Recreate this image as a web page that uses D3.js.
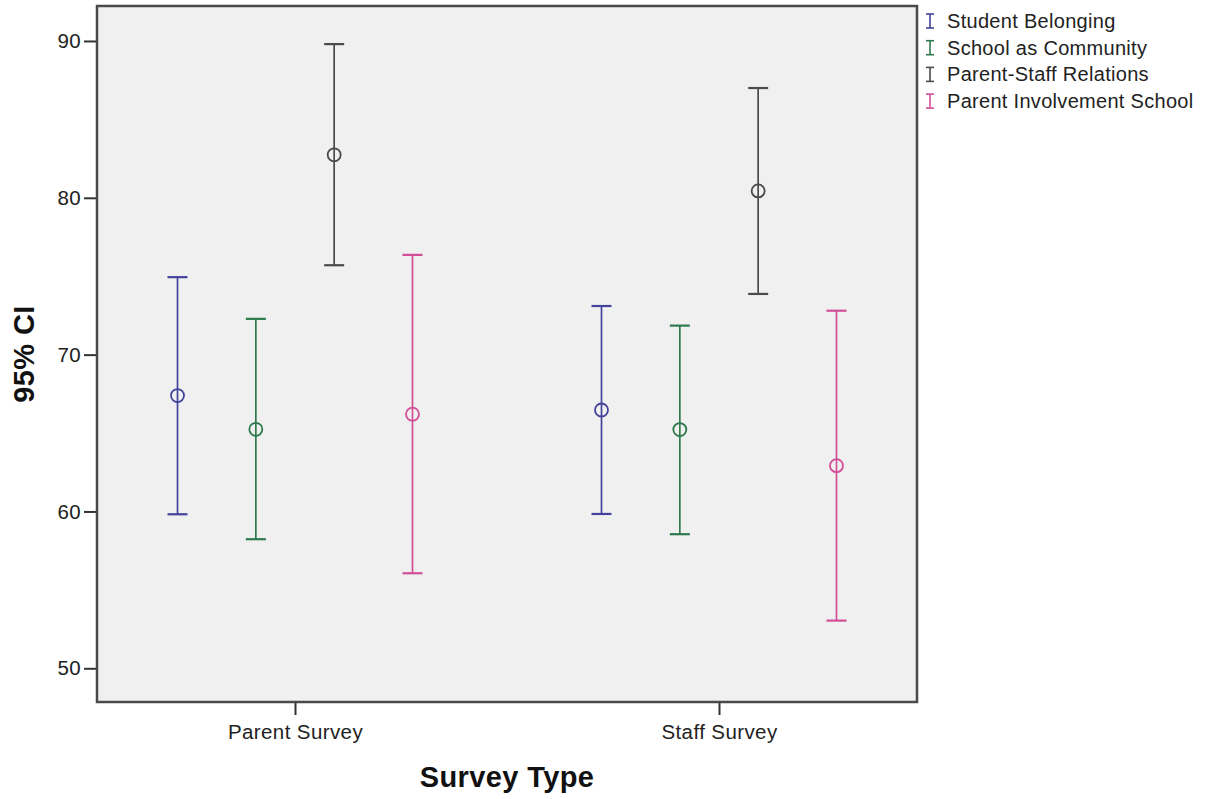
<!DOCTYPE html>
<html>
<head>
<meta charset="utf-8">
<script src="https://cdn.jsdelivr.net/npm/d3@7"></script>
<style>
  html, body { margin: 0; padding: 0; background: #fff; }
  svg { display: block; font-family: "Liberation Sans", Arial, sans-serif; }
</style>
</head>
<body>
<svg id="chart" width="1218" height="799"></svg>
<script>
// Survey groups along the x axis
const categories = ["Parent Survey", "Staff Survey"];
// Scale series plotted inside each group
const seriesNames = ["Student Belonging", "School as Community", "Parent-Staff Relations", "Parent Involvement School"];
const seriesColors = ["#43439c", "#2f7a4c", "#4a4a4a", "#d24f98"];
// Means and 95% confidence limits, one row per survey group
const meanValues = [
  [67.39, 65.24, 82.74, 66.20],
  [66.47, 65.22, 80.44, 62.92]
];
const lowerValues = [
  [59.82, 58.23, 75.70, 56.06],
  [59.84, 58.55, 73.87, 53.04]
];
const upperValues = [
  [74.94, 72.28, 89.80, 76.36],
  [73.10, 71.85, 87.00, 72.80]
];
const yTicks = [50, 60, 70, 80, 90];

const svg = d3.select("#chart");
const plot = { left: 97, right: 917, top: 6, bottom: 702 };

const x = d3.scalePoint().domain(categories)
  .range([plot.left, plot.right]).padding(0.467);
const xInner = d3.scalePoint().domain(seriesNames).range([-117.5, 117.5]);
const y = d3.scaleLinear().domain([47.85, 92.23]).range([plot.bottom, plot.top]);

// Plot background
svg.append("rect")
  .attr("x", plot.left).attr("y", plot.top)
  .attr("width", plot.right - plot.left).attr("height", plot.bottom - plot.top)
  .attr("fill", "#f0f0f0");

// Build rows of error-bar records
const rows = [];
categories.forEach((c, i) => {
  seriesNames.forEach((s, j) => {
    rows.push({ cat: c, series: s, color: seriesColors[j],
      mean: meanValues[i][j], lo: lowerValues[i][j], hi: upperValues[i][j] });
  });
});

const cap = 10;
const g = svg.append("g").attr("class", "bars");
const bar = g.selectAll("g.eb").data(rows).join("g").attr("class", "eb")
  .attr("transform", d => `translate(${x(d.cat) + xInner(d.series)},0)`)
  .attr("stroke", d => d.color).attr("fill", "none").attr("stroke-width", 1.7);

bar.append("line").attr("x1", 0).attr("x2", 0)
  .attr("y1", d => y(d.hi)).attr("y2", d => y(d.lo));
bar.append("line").attr("x1", -cap).attr("x2", cap)
  .attr("y1", d => y(d.hi)).attr("y2", d => y(d.hi)).attr("stroke-width", 2.2);
bar.append("line").attr("x1", -cap).attr("x2", cap)
  .attr("y1", d => y(d.lo)).attr("y2", d => y(d.lo)).attr("stroke-width", 2.2);
bar.append("circle").attr("cx", 0).attr("cy", d => y(d.mean)).attr("r", 6.5)
  .attr("stroke-width", 1.8);

// Axes
const yAxis = svg.append("g")
  .attr("transform", `translate(${plot.left},0)`)
  .call(d3.axisLeft(y).tickValues(yTicks).tickSize(13).tickPadding(3).tickFormat(d3.format("d")));
const xAxis = svg.append("g")
  .attr("transform", `translate(0,${plot.bottom})`)
  .call(d3.axisBottom(x).tickSize(13).tickPadding(9));
[yAxis, xAxis].forEach(a => {
  a.select(".domain").remove();
  a.selectAll(".tick line").attr("stroke", "#333").attr("stroke-width", 2);
  a.selectAll(".tick text").attr("fill", "#222")
    .style("font-size", "20.5px").style("letter-spacing", "0.4px")
    .style("font-family", "'Liberation Sans', Arial, sans-serif");
});

// Plot frame
svg.append("rect")
  .attr("x", plot.left).attr("y", plot.top)
  .attr("width", plot.right - plot.left).attr("height", plot.bottom - plot.top)
  .attr("fill", "none").attr("stroke", "#4a4a4a").attr("stroke-width", 2.5);

// Axis titles
svg.append("text")
  .attr("x", (plot.left + plot.right) / 2 - 0).attr("y", 787)
  .attr("text-anchor", "middle")
  .style("font-size", "29px").style("font-weight", "bold").style("letter-spacing", "0.4px")
  .attr("fill", "#111")
  .text("Survey Type");
svg.append("text")
  .attr("transform", `translate(34,${(plot.top + plot.bottom) / 2}) rotate(-90)`)
  .attr("text-anchor", "middle")
  .style("font-size", "29px").style("font-weight", "bold").style("letter-spacing", "0.4px")
  .attr("fill", "#111")
  .text("95% CI");

// Legend
const legend = svg.append("g").attr("transform", "translate(930,0)");
const item = legend.selectAll("g").data(seriesNames).join("g")
  .attr("transform", (d, i) => `translate(0,${21 + i * 26.7})`);
item.each(function (d, i) {
  const gi = d3.select(this).append("g")
    .attr("stroke", seriesColors[i]).attr("stroke-width", 1.6);
  gi.append("line").attr("x1", 0).attr("x2", 0).attr("y1", -7).attr("y2", 7);
  gi.append("line").attr("x1", -4).attr("x2", 4).attr("y1", -7).attr("y2", -7);
  gi.append("line").attr("x1", -4).attr("x2", 4).attr("y1", 7).attr("y2", 7);
});
item.append("text")
  .attr("x", 17).attr("y", 0).attr("dy", "0.35em")
  .style("font-size", "20px").style("letter-spacing", "0.3px").attr("fill", "#222")
  .text(d => d);
</script>
</body>
</html>
